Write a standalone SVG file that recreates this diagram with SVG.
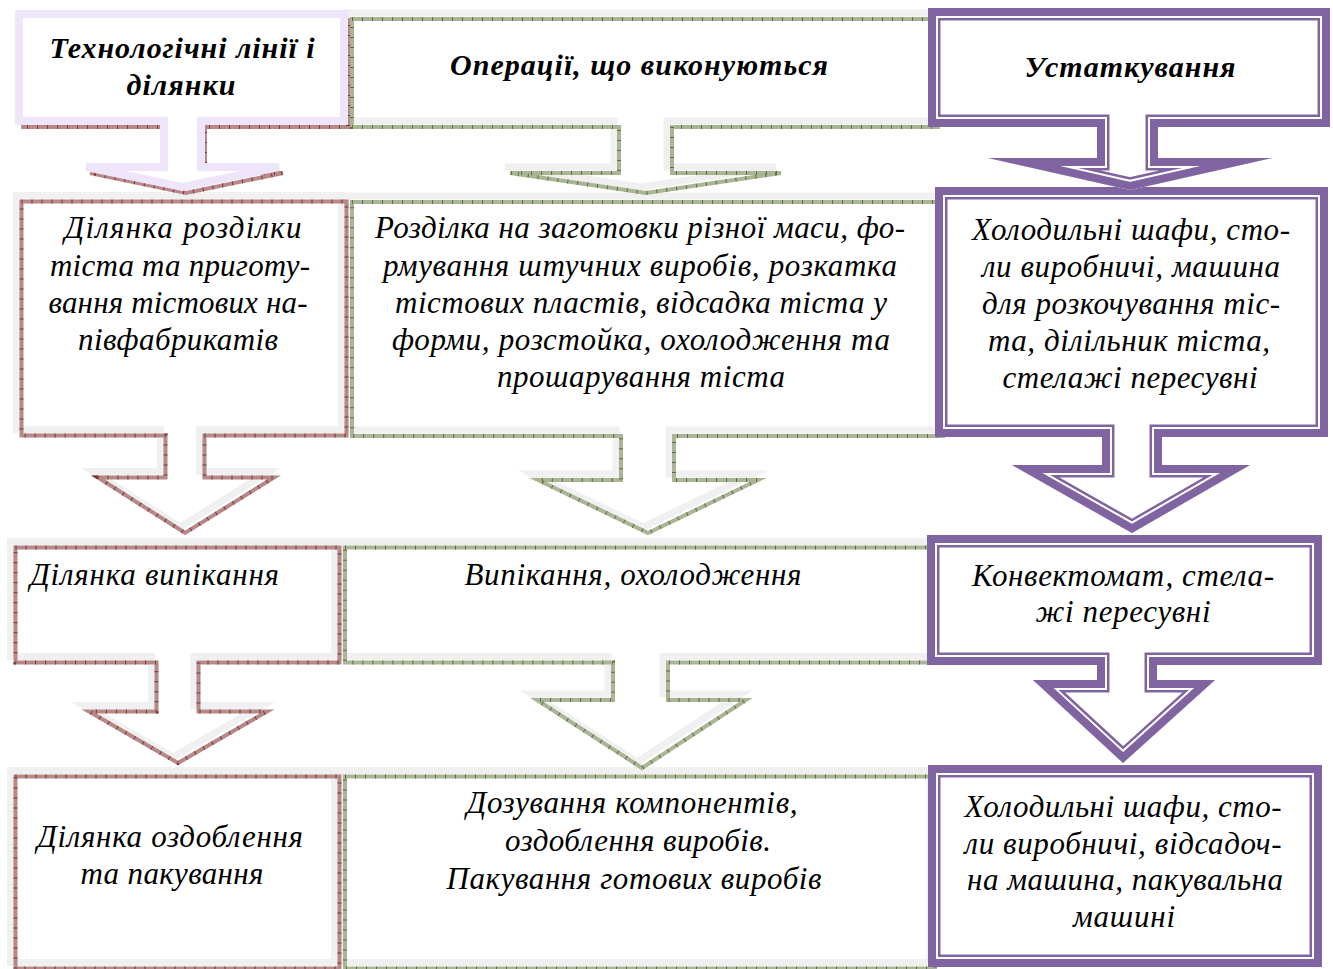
<svg xmlns="http://www.w3.org/2000/svg" xmlns:xlink="http://www.w3.org/1999/xlink" width="1333" height="969" viewBox="0 0 1333 969">
<style>
.g{fill:#fff;stroke:#f0f0f0;stroke-width:7;stroke-miterlimit:6}
.lav{fill:#fff;stroke:#efe5fb;stroke-width:8;stroke-miterlimit:6}
.sb{fill:none;stroke:#b68888;stroke-width:4;stroke-miterlimit:6}
.sbt{fill:none;stroke:#7d3535;stroke-width:4;stroke-dasharray:1 9}
.sg{fill:none;stroke:#a9b594;stroke-width:4;stroke-miterlimit:6}
.sgt{fill:none;stroke:#5d6e3f;stroke-width:4;stroke-dasharray:1 9}
.pw{fill:#fff}
.p1{fill:none;stroke:#8064a2;stroke-width:25;stroke-miterlimit:20}
.p2{fill:none;stroke:#fff;stroke-width:20;stroke-miterlimit:20}
.p3{fill:none;stroke:#8064a2;stroke-width:16;stroke-miterlimit:20}
text{font-family:"Liberation Serif","Times New Roman",serif;font-style:italic;font-size:31px;fill:#000;text-anchor:middle}
.h{font-weight:bold;font-size:30px}
.l{text-anchor:start}
</style>
<defs>
<path id="a1" d="M19,14 H344 V121 H201 V167 H279 L182,187 L86,167 H164 V121 H19 Z"/>
<path id="a2" d="M16.5,195.5 H341.5 V429.5 H199.5 V471.5 H269 L180,527 L93,471.5 H160.5 V429.5 H16.5 Z"/>
<path id="a3" d="M10.5,541.5 H334.5 V656.5 H193.5 V705.5 H262 L173,757 L84,705.5 H151.5 V656.5 H10.5 Z"/>
<path id="a4" d="M10.5,770.5 H334.5 V962.5 H10.5 Z"/>
<path id="b1" d="M347,13 H933 V121 H667 V167 H776 L641,187 L505,167 H614 V121 H347 Z"/>
<path id="b2" d="M347,196 H938 V430 H669 V474 H753 L643,527 L533,474 H616 V430 H347 Z"/>
<path id="b3" d="M340,541.5 H930 V656.5 H663 V694 H741 L637,762 L532,694 H608 V656.5 H340 Z"/>
<path id="b4" d="M340,770.5 H930 V962.5 H340 Z"/>
<path id="c1" d="M928,8 H1330 V127 H1158 V158 H1272 L1130,190 L988,158 H1097 V127 H928 Z"/>
<path id="c2" d="M935,187 H1328 V437 H1162 V465 H1250 L1132,533 L1012,465 H1102 V437 H935 Z"/>
<path id="c3" d="M927,535 H1322 V665 H1157 V680 H1215 L1123,763 L1033,680 H1097 V665 H927 Z"/>
<path id="c4" d="M928,765 H1322 V967 H928 Z"/>
<clipPath id="k1"><use xlink:href="#c1"/></clipPath>
<clipPath id="k2"><use xlink:href="#c2"/></clipPath>
<clipPath id="k3"><use xlink:href="#c3"/></clipPath>
<clipPath id="k4"><use xlink:href="#c4"/></clipPath>
</defs>
<rect width="1333" height="969" fill="#fff"/>

<g id="connectors"></g>

<!-- column 2 -->
<g id="ops4">
<use xlink:href="#b4" class="g"/>
<use xlink:href="#b4" class="sg" transform="translate(5,6)"/>
<use xlink:href="#b4" class="sgt" transform="translate(5,6)"/>
<text x="632" y="813" textLength="331">Дозування компонентів,</text>
<text x="638" y="851" textLength="266">оздоблення виробів.</text>
<text x="634" y="889" textLength="375">Пакування готових виробів</text>
</g>
<g id="ops3">
<use xlink:href="#b3" class="g"/>
<use xlink:href="#b3" class="sg" transform="translate(5,6)"/>
<use xlink:href="#b3" class="sgt" transform="translate(5,6)"/>
<text x="633" y="585" textLength="337">Випікання, охолодження</text>
</g>
<g id="ops2">
<use xlink:href="#b2" class="g"/>
<use xlink:href="#b2" class="sg" transform="translate(5,6)"/>
<use xlink:href="#b2" class="sgt" transform="translate(5,6)"/>
<text x="640" y="238" textLength="530">Розділка на заготовки різної маси, фо-</text>
<text x="640" y="276" textLength="514">рмування штучних виробів, розкатка</text>
<text x="641" y="313" textLength="492">тістових пластів, відсадка тіста у</text>
<text x="641" y="350" textLength="498">форми, розстойка, охолодження та</text>
<text x="641" y="387" textLength="288">прошарування тіста</text>
</g>
<g id="ops1">
<use xlink:href="#b1" class="g"/>
<use xlink:href="#b1" class="sg" transform="translate(5,6)"/>
<use xlink:href="#b1" class="sgt" transform="translate(5,6)"/>
<text class="h" x="639" y="75" textLength="378">Операції, що виконуються</text>
</g>

<!-- column 1 -->
<g id="line4">
<use xlink:href="#a4" class="g"/>
<use xlink:href="#a4" class="sb" transform="translate(5,6)"/>
<use xlink:href="#a4" class="sbt" transform="translate(5,6)"/>
<text x="170" y="847" textLength="266">Ділянка оздоблення</text>
<text x="172" y="884" textLength="183">та пакування</text>
</g>
<g id="line3">
<use xlink:href="#a3" class="g"/>
<use xlink:href="#a3" class="sb" transform="translate(5,6)"/>
<use xlink:href="#a3" class="sbt" transform="translate(5,6)"/>
<text class="l" x="30" y="585" textLength="249">Ділянка випікання</text>
</g>
<g id="line2">
<use xlink:href="#a2" class="g"/>
<use xlink:href="#a2" class="sb" transform="translate(5,6)"/>
<use xlink:href="#a2" class="sbt" transform="translate(5,6)"/>
<text x="183" y="238" textLength="237">Ділянка розділки</text>
<text x="180" y="276" textLength="260">тіста та приготу-</text>
<text x="178" y="313" textLength="259">вання тістових на-</text>
<text x="178" y="350" textLength="200">півфабрикатів</text>
</g>
<g id="line1">
<use xlink:href="#a1" class="sb" transform="translate(4,6)"/>
<use xlink:href="#a1" class="sbt" transform="translate(4,6)"/>
<use xlink:href="#a1" class="lav"/>
<text class="h" x="182" y="58" textLength="265">Технологічні лінії і</text>
<text class="h" x="181" y="95" textLength="109">ділянки</text>
</g>

<!-- column 3 -->
<g id="equip4">
<g clip-path="url(#k4)">
<use xlink:href="#c4" class="pw"/><use xlink:href="#c4" class="p1"/><use xlink:href="#c4" class="p2"/><use xlink:href="#c4" class="p3"/>
</g>
<text x="1123" y="817" textLength="317">Холодильні шафи, сто-</text>
<text x="1123" y="854" textLength="317">ли виробничі, відсадоч-</text>
<text x="1125" y="890" textLength="316">на машина, пакувальна</text>
<text x="1124" y="927" textLength="102">машині</text>
</g>
<g id="equip3">
<g clip-path="url(#k3)">
<use xlink:href="#c3" class="pw"/><use xlink:href="#c3" class="p1"/><use xlink:href="#c3" class="p2"/><use xlink:href="#c3" class="p3"/>
</g>
<text x="1123" y="586" textLength="302">Конвектомат, стела-</text>
<text x="1123" y="622" textLength="175">жі пересувні</text>
</g>
<g id="equip2">
<g clip-path="url(#k2)">
<use xlink:href="#c2" class="pw"/><use xlink:href="#c2" class="p1"/><use xlink:href="#c2" class="p2"/><use xlink:href="#c2" class="p3"/>
</g>
<text x="1131" y="240" textLength="318">Холодильні шафи, сто-</text>
<text x="1131" y="277" textLength="298">ли виробничі, машина</text>
<text x="1131" y="314" textLength="298">для розкочування тіс-</text>
<text x="1129" y="351" textLength="282">та, ділільник тіста,</text>
<text x="1130" y="388" textLength="255">стелажі пересувні</text>
</g>
<g id="equip1">
<g clip-path="url(#k1)">
<use xlink:href="#c1" class="pw"/><use xlink:href="#c1" class="p1"/><use xlink:href="#c1" class="p2"/><use xlink:href="#c1" class="p3"/>
</g>
<text class="h" x="1130" y="77" textLength="211">Устаткування</text>
</g>
</svg>
